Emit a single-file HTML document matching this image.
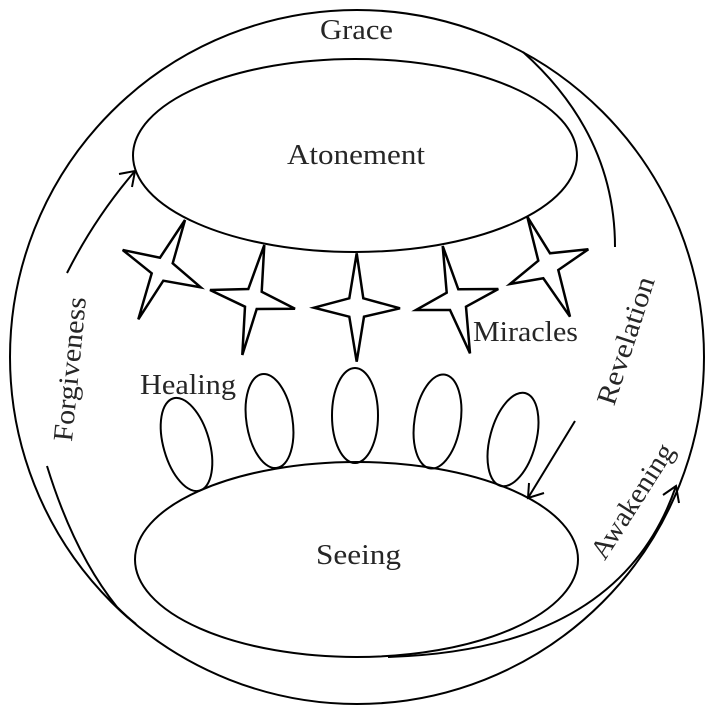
<!DOCTYPE html>
<html>
<head>
<meta charset="utf-8">
<style>
  html, body { margin: 0; padding: 0; background: #ffffff; }
  body { width: 713px; height: 717px; overflow: hidden; }
  svg { display: block; }
  text { font-family: "Liberation Serif", "DejaVu Serif", serif; font-size: 28px; fill: #262626; }
</style>
</head>
<body>
<svg width="713" height="717" viewBox="0 0 713 717" xmlns="http://www.w3.org/2000/svg">
  <g fill="none" stroke="#000" stroke-width="2">
    <!-- outer circle -->
    <circle cx="357" cy="357" r="347"/>
    <!-- Atonement ellipse -->
    <ellipse cx="355" cy="155.5" rx="222" ry="96.5"/>
    <!-- Seeing ellipse -->
    <ellipse cx="356.5" cy="559.5" rx="221.5" ry="97.5"/>

    <!-- small ellipses (healing) -->
    <ellipse cx="0" cy="0" rx="23" ry="48" transform="translate(186.5 444.5) rotate(-16)"/>
    <ellipse cx="0" cy="0" rx="23" ry="47.5" transform="translate(269.5 421) rotate(-9)"/>
    <ellipse cx="355" cy="415.5" rx="23" ry="47.5"/>
    <ellipse cx="0" cy="0" rx="23" ry="47.5" transform="translate(437.5 421.5) rotate(9)"/>
    <ellipse cx="0" cy="0" rx="23" ry="48" transform="translate(513 439.5) rotate(15)"/>

    <!-- Forgiveness arrow -->
    <path d="M67,273 Q95,217.5 135,171"/>
    <path d="M119,174 L135,171 L132,187"/>

    <!-- Revelation arc (top right) -->
    <path d="M523,52 Q615,134.5 615,247"/>
    <!-- Revelation arrow -->
    <path d="M575,421 L528,498"/>
    <path d="M529,483 L528,498 L544,493"/>

    <!-- Awakening arrow -->
    <path d="M388,657 Q620,650 676,486"/>
    <path d="M663,495 L676,486 L679,503"/>

    <!-- left bottom arc -->
    <path d="M47,466 Q74,553.5 117,607 Q126,616 136,624"/>
  </g>

  <!-- stars -->
  <g fill="#fff" stroke="#000" stroke-width="2.5" stroke-linejoin="miter">
    <polygon points="185,220 172.7,263.3 200.7,287.3 163.3,280.7 138.3,319.3 151.7,273.3 122.7,250 160,257.7"/>
    <polygon points="264.3,245 261.7,291.7 295,308.7 256.7,309 242.3,355 245,306.7 210,290 248.3,289"/>
    <polygon points="356.7,253.3 363.3,298.3 400,308.3 364,316.7 356.7,361.7 349.3,316.7 314,307.7 349.3,298.3"/>
    <polygon points="442.7,246 458.3,289.3 498.3,289 466,306.7 470,353.3 450,310 416,310 446.7,292.7"/>
    <polygon points="527.3,216.7 550,253.3 588.3,249.3 558.3,270 570,316.7 543.3,278.3 510,284 538.3,260.7"/>
  </g>

  <!-- labels -->
  <text x="320" y="39" textLength="73" lengthAdjust="spacingAndGlyphs">Grace</text>
  <text x="287" y="164" textLength="138" lengthAdjust="spacingAndGlyphs">Atonement</text>
  <text x="140" y="394" textLength="96" lengthAdjust="spacingAndGlyphs">Healing</text>
  <text x="473" y="341" textLength="105" lengthAdjust="spacingAndGlyphs">Miracles</text>
  <text x="316" y="564" textLength="85" lengthAdjust="spacingAndGlyphs">Seeing</text>

  <text x="0" y="0" text-anchor="middle" textLength="145" lengthAdjust="spacingAndGlyphs" transform="translate(79 370) rotate(-84.4)">Forgiveness</text>
  <text x="0" y="0" text-anchor="middle" textLength="133" lengthAdjust="spacingAndGlyphs" transform="translate(634.5 343.5) rotate(-72)">Revelation</text>
  <text x="0" y="0" text-anchor="middle" textLength="131" lengthAdjust="spacingAndGlyphs" transform="translate(640 506) rotate(-57.5)">Awakening</text>
</svg>
</body>
</html>
